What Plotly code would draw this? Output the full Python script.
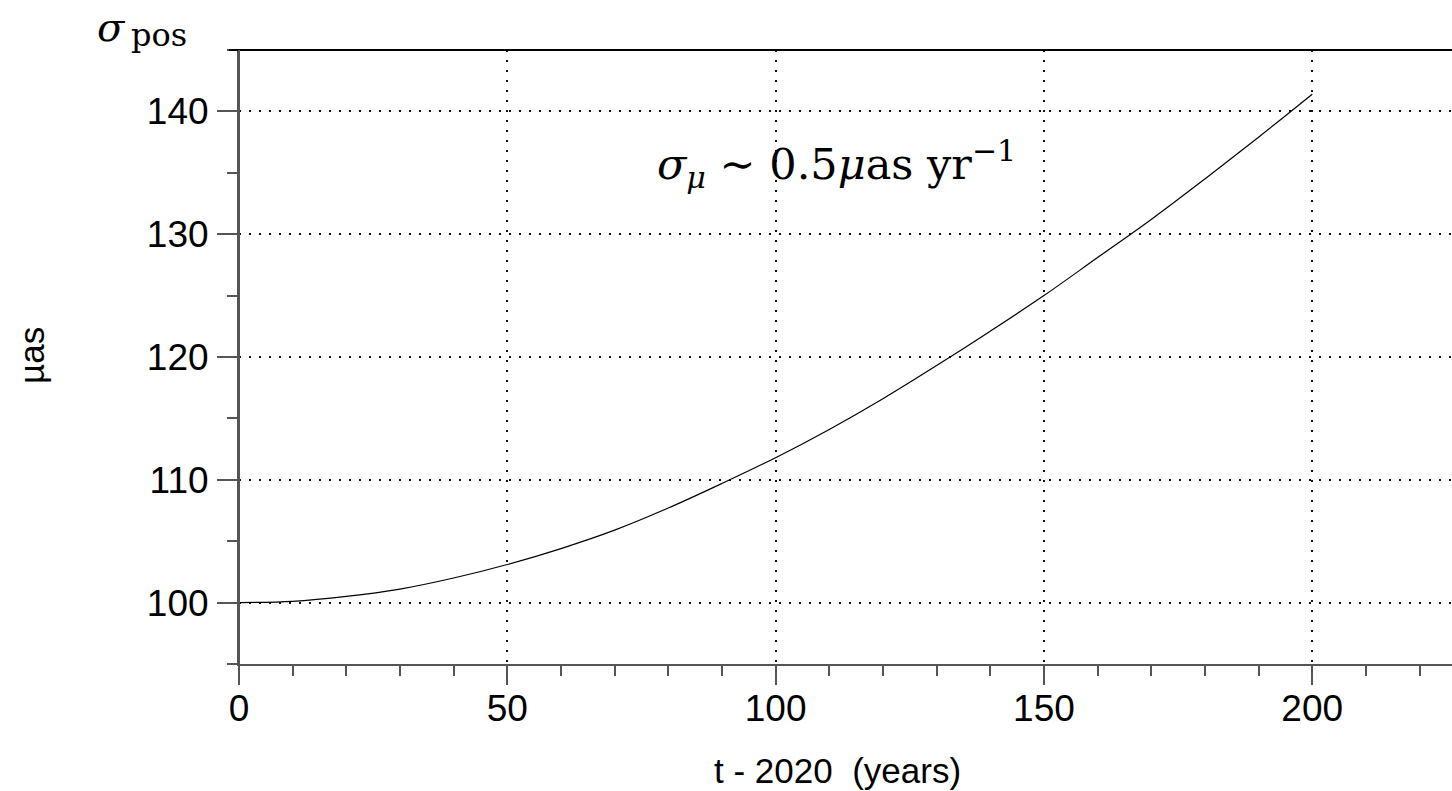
import plotly.graph_objects as go

# Positional uncertainty vs. time since the 2020 epoch
years = [0, 10, 20, 30, 40, 50, 60, 70, 80, 90, 100,
         110, 120, 130, 140, 150, 160, 170, 180, 190, 200]
sigma_pos = [100.0, 100.1, 100.5, 101.1, 102.0, 103.1, 104.4, 105.9, 107.7, 109.7, 111.8,
             114.1, 116.6, 119.3, 122.1, 125.0, 128.1, 131.2, 134.5, 137.9, 141.4]

x_major = [0, 50, 100, 150, 200]
y_major = [100, 110, 120, 130, 140]

W, H = 1452, 791
L, R, T, B = 239, 0, 50, 127
plot_w = W - L - R
plot_h = H - T - B

AX = "#555555"
GRID = "#111111"
SANS = "Liberation Sans, Arial, Helvetica, sans-serif"
SERIF = "DejaVu Serif, Liberation Serif, serif"


def px_x(px):
    """Pixel column -> paper x."""
    return (px - L) / plot_w


def px_y(py):
    """Pixel row -> paper y."""
    return (H - B - py) / plot_h


fig = go.Figure()
fig.add_trace(go.Scatter(
    x=years, y=sigma_pos, mode="lines",
    line=dict(color="black", width=1.2, shape="spline"),
    hoverinfo="skip", showlegend=False,
))

fig.update_layout(
    width=W, height=H,
    margin=dict(l=L, r=R, t=T, b=B, autoexpand=False),
    paper_bgcolor="white", plot_bgcolor="white",
    font=dict(family=SANS, color="black"),
    xaxis=dict(
        range=[0, 226.05], tickvals=x_major, ticktext=[str(v) for v in x_major],
        ticks="outside", ticklen=19, tickwidth=1.5, tickcolor=AX,
        tickfont=dict(size=37, family=SANS), ticklabelstandoff=-8,
        showgrid=True, gridcolor=GRID, gridwidth=2, griddash="2px,8px",
        minor=dict(dtick=10, tick0=0, ticks="outside", ticklen=10, tickwidth=1.5,
                   tickcolor=AX, showgrid=False),
        showline=True, linecolor=AX, linewidth=2, zeroline=False, mirror=False,
    ),
    yaxis=dict(
        range=[95, 145], tickvals=y_major, ticktext=[str(v) for v in y_major],
        ticks="outside", ticklen=20, tickwidth=1.5, tickcolor=AX,
        tickfont=dict(size=37, family=SANS), ticklabelstandoff=1,
        showgrid=True, gridcolor=GRID, gridwidth=2, griddash="2px,8px",
        minor=dict(dtick=5, tick0=95, ticks="outside", ticklen=10, tickwidth=1.5,
                   tickcolor=AX, showgrid=False),
        showline=True, linecolor=AX, linewidth=2, zeroline=False,
    ),
)

ext = 10 / plot_w
# top frame line and the short stubs past the left axis
fig.add_shape(type="line", xref="paper", yref="paper", x0=-ext, x1=1, y0=1, y1=1,
              line=dict(color="black", width=2))
fig.add_shape(type="line", xref="paper", yref="paper", x0=-ext, x1=0, y0=0, y1=0,
              line=dict(color=AX, width=2))
fig.add_shape(type="line", xref="paper", yref="paper", x0=0, x1=0, y0=0, y1=1,
              line=dict(color=AX, width=2))

# axis titles
fig.add_annotation(x=px_x(837), xref="paper", xanchor="center",
                   y=px_y(770), yref="paper", yanchor="middle",
                   text="t - 2020 \u00a0(years)", showarrow=False,
                   font=dict(size=35, family=SANS))
fig.add_annotation(x=px_x(31), xref="paper", xanchor="center",
                   y=px_y(356), yref="paper", yanchor="middle",
                   text="µas", showarrow=False, textangle=-90,
                   font=dict(size=35, family=SANS))

# sigma_pos label above the y axis
fig.add_annotation(x=px_x(95), xref="paper", xanchor="left",
                   y=px_y(27), yref="paper", yanchor="middle",
                   text="<i>σ</i>", showarrow=False,
                   font=dict(size=40, family=SERIF))
fig.add_annotation(x=px_x(129), xref="paper", xanchor="left",
                   y=px_y(35), yref="paper", yanchor="middle",
                   text="pos", showarrow=False,
                   font=dict(size=32, family=SERIF))

# rate label
fig.add_annotation(x=px_x(655), xref="paper", xanchor="left",
                   y=px_y(164), yref="paper", yanchor="middle",
                   text="<i>σ</i><sub><i>μ</i></sub> ∼ 0.5<i>μ</i>as yr<sup>−1</sup>",
                   showarrow=False, font=dict(size=43, family=SERIF))

fig.write_html("out.html")
